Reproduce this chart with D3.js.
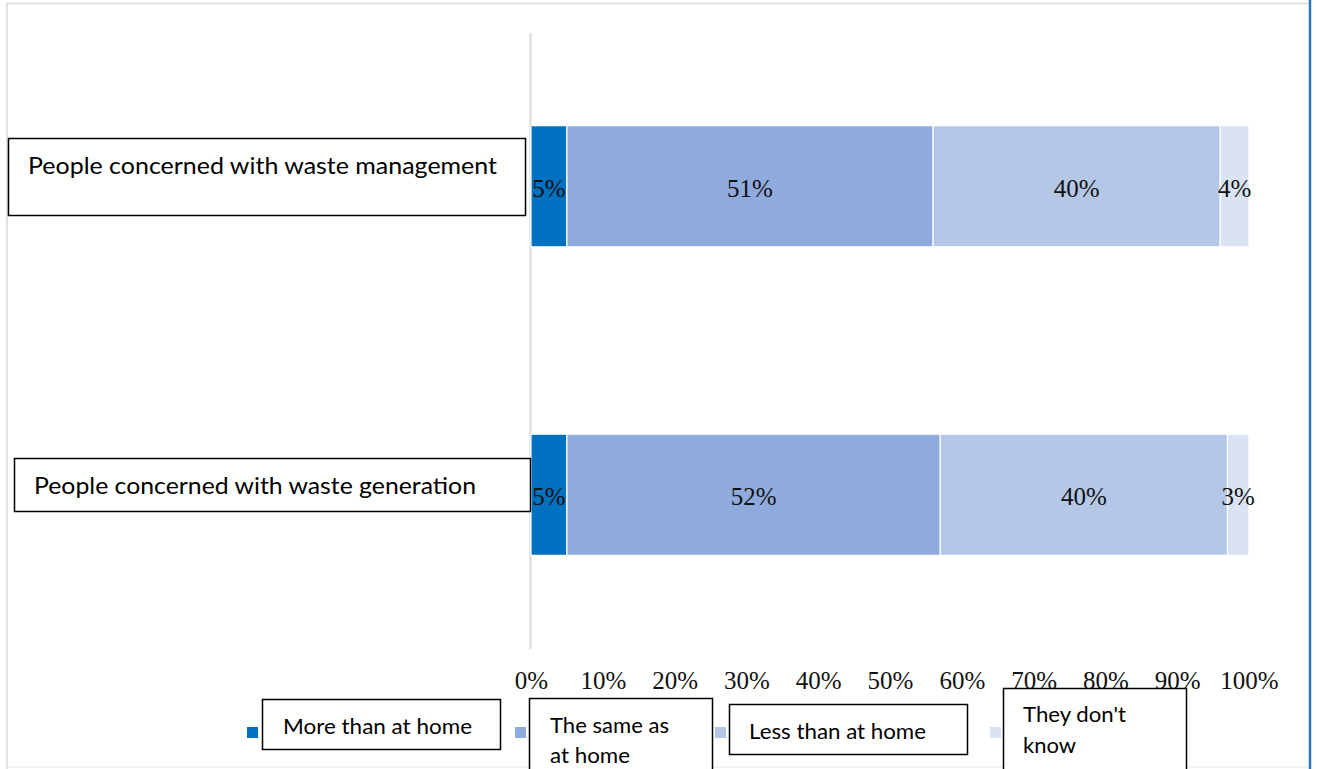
<!DOCTYPE html>
<html>
<head>
<meta charset="utf-8">
<script src="https://cdn.jsdelivr.net/npm/d3@7"></script>
<style>
  html, body { margin: 0; padding: 0; background: #fff; }
  svg { display: block; }
</style>
</head>
<body>
<svg id="chart" width="1317" height="769"></svg>
<script>
// Survey categories (one horizontal bar each)
const categories = [
  "People concerned with waste management",
  "People concerned with waste generation"
];

// Answer series, in stacking order
const seriesNames = ["More than at home", "The same as at home", "Less than at home", "They don't know"];
const moreThanHome = [5, 5];
const sameAsHome   = [51, 52];
const lessThanHome = [40, 40];
const dontKnow     = [4, 3];

// Axis tick values (percent)
const tickValues = [0, 10, 20, 30, 40, 50, 60, 70, 80, 90, 100];

const seriesColors = ["#0070C0", "#8FAADC", "#B4C7E7", "#DAE3F3"];

// Rows for d3.stack
const seriesKeys = ["more", "same", "less", "unknown"];
const rows = categories.map((c, i) => ({
  category: c,
  more: moreThanHome[i],
  same: sameAsHome[i],
  less: lessThanHome[i],
  unknown: dontKnow[i]
}));

const svg = d3.select("#chart");

// Outer frame
svg.append("line").attr("x1", 6).attr("x2", 1310).attr("y1", 3.5).attr("y2", 3.5)
  .attr("stroke", "#d9d9d9").attr("stroke-width", 1.5);
svg.append("line").attr("x1", 7).attr("x2", 7).attr("y1", 3).attr("y2", 769)
  .attr("stroke", "#d9d9d9").attr("stroke-width", 1.5);
svg.append("line").attr("x1", 6).attr("x2", 1310).attr("y1", 767).attr("y2", 767)
  .attr("stroke", "#e6e6e6").attr("stroke-width", 1);
svg.append("line").attr("x1", 1310).attr("x2", 1310).attr("y1", 0).attr("y2", 769)
  .attr("stroke", "#2E75B6").attr("stroke-width", 2.5);

// Scales
const x = d3.scaleLinear().domain([0, 100]).range([531, 1249]);
const y = d3.scaleBand().domain(categories).range([33, 648])
  .paddingInner(0.607).paddingOuter(0.3);

const stacked = d3.stack().keys(seriesKeys)(rows);

// Category axis line
svg.append("line")
  .attr("x1", 530.5).attr("x2", 530.5)
  .attr("y1", 33).attr("y2", 649)
  .attr("stroke", "#d9d9d9").attr("stroke-width", 2);

// Stacked bars
const layers = svg.append("g").selectAll("g")
  .data(stacked)
  .join("g")
  .attr("fill", (d, i) => seriesColors[i]);

layers.selectAll("rect")
  .data(d => d)
  .join("rect")
  .attr("x", d => x(d[0]))
  .attr("y", d => y(d.data.category))
  .attr("width", d => x(d[1]) - x(d[0]))
  .attr("height", y.bandwidth())
  .attr("stroke", "#ffffff")
  .attr("stroke-width", 1.2)
  .attr("rx", 1);

// Value labels centred in each segment
const serif = "'Liberation Serif', 'DejaVu Serif', serif";
layers.selectAll("text")
  .data(d => d)
  .join("text")
  .attr("x", d => (x(d[0]) + x(d[1])) / 2)
  .attr("y", d => y(d.data.category) + y.bandwidth() / 2 + 10.5)
  .attr("text-anchor", "middle")
  .attr("font-family", serif)
  .attr("font-size", 25)
  .attr("fill", "#111")
  .text(d => (d[1] - d[0]) + "%");

// Value axis
const xAxis = d3.axisBottom(x)
  .tickValues(tickValues)
  .tickSize(0)
  .tickPadding(0)
  .tickFormat(d => d + "%");

const axisG = svg.append("g")
  .attr("transform", "translate(0,671)")
  .call(xAxis);
axisG.select(".domain").remove();
axisG.selectAll("text")
  .attr("font-family", serif)
  .attr("font-size", 25)
  .attr("fill", "#111")
  .attr("y", 18)
  .attr("dy", null);

// Category label boxes
const sans = "Lato, 'Liberation Sans', Arial, sans-serif";
const catBoxes = [
  { x: 8,  y: 138, w: 517, h: 77, tx: 28, ty: 174, tw: 469 },
  { x: 14, y: 458, w: 516, h: 53, tx: 34, ty: 494, tw: 442 }
];
categories.forEach((c, i) => {
  const b = catBoxes[i];
  svg.append("rect")
    .attr("x", b.x + 0.5).attr("y", b.y + 0.5)
    .attr("width", b.w).attr("height", b.h)
    .attr("fill", "#fff").attr("stroke", "#000").attr("stroke-width", 1.5);
  svg.append("text")
    .attr("x", b.tx).attr("y", b.ty)
    .attr("font-family", sans).attr("font-size", 23)
    .attr("fill", "#000")
    .attr("textLength", b.tw).attr("lengthAdjust", "spacingAndGlyphs")
    .text(c);
});

// Legend: markers plus boxed labels
const legendItems = [
  { mx: 247, bx: 262,  by: 699, bw: 238, bh: 50, tx: 283,  lines: ["More than at home"],       ty: [734],      tw: [189] },
  { mx: 515, bx: 529,  by: 698, bw: 183, bh: 80, tx: 550,  lines: ["The same as", "at home"],  ty: [733, 763], tw: [119, 80] },
  { mx: 715, bx: 729,  by: 704, bw: 238, bh: 50, tx: 749,  lines: ["Less than at home"],       ty: [739],      tw: [177] },
  { mx: 990, bx: 1003, by: 688, bw: 183, bh: 90, tx: 1023, lines: ["They don't", "know"],      ty: [722, 753], tw: [103, 53] }
];

const legend = svg.append("g");
seriesNames.forEach((name, i) => {
  const it = legendItems[i];
  legend.append("rect")
    .attr("x", it.mx).attr("y", 727)
    .attr("width", 11).attr("height", 11)
    .attr("fill", seriesColors[i]);
});
seriesNames.forEach((name, i) => {
  const it = legendItems[i];
  legend.append("rect")
    .attr("x", it.bx + 0.5).attr("y", it.by + 0.5)
    .attr("width", it.bw).attr("height", it.bh)
    .attr("fill", "#fff").attr("stroke", "#000").attr("stroke-width", 1.5);
  it.lines.forEach((ln, j) => {
    legend.append("text")
      .attr("x", it.tx).attr("y", it.ty[j])
      .attr("font-family", sans).attr("font-size", 21)
      .attr("fill", "#000")
      .attr("textLength", it.tw[j]).attr("lengthAdjust", "spacingAndGlyphs")
      .text(ln);
  });
});
</script>
</body>
</html>
